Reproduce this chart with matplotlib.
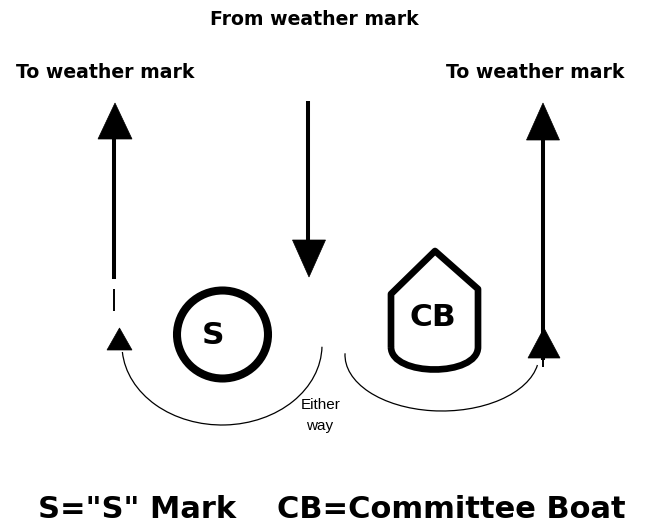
import matplotlib
matplotlib.use("Agg")
import matplotlib.pyplot as plt
from matplotlib.patches import Polygon, Ellipse, Arc, PathPatch
from matplotlib.path import Path

# ---- diagram content (pixel coordinates, y downward) ----
labels_top = ["From weather mark", "To weather mark", "To weather mark"]
labels_top_xy = [(314, 19.5), (105, 72.5), (535, 72.5)]

legend_texts = ['S="S" Mark', 'CB=Committee Boat']
legend_xy = [(137, 509), (451, 509)]

mark_labels = ["S", "CB"]
mark_label_xy = [(213, 336), (433, 318)]

either_texts = ["Either", "way"]
either_xy = [(321, 405), (320, 426)]

# straight course legs: (x, y_start, y_end)
thick_legs = [(114, 139, 279), (308, 101, 242), (543, 139, 360)]
thin_legs = [(114, 289, 311), (543, 358, 367)]

# arrowheads: (tip_x, tip_y, half_width, base_y)
heads = [(115, 103, 17, 139), (309, 277, 16.5, 240), (543, 103, 16.5, 140),
         (119.5, 328, 12.5, 350), (544, 328, 16, 358)]

# rounding arcs: (cx, cy, width, height, theta1, theta2)
arcs = [(222, 345, 200, 160, 1, 176), (442, 355, 194, 112, 6, 181)]

# "S" mark circle: (cx, cy, w, h)
s_mark = (222.5, 334.5, 91, 88)

# committee boat outline
cb_top = (435, 251)
cb_left = (391, 294, 347)
cb_right = (478, 289, 347)
cb_bottom_ctrl = 377

fig = plt.figure(figsize=(6.5, 5.31), dpi=100)
ax = fig.add_axes([0, 0, 1, 1])
ax.set_xlim(0, 650)
ax.set_ylim(531, 0)
ax.axis("off")

bold = dict(family="DejaVu Sans", weight="bold", color="black",
            ha="center", va="center")

for t, (x, y) in zip(labels_top, labels_top_xy):
    ax.text(x, y, t, fontsize=13.6, **bold)

for t, (x, y) in zip(legend_texts, legend_xy):
    ax.text(x, y, t, fontsize=22, **bold)

for t, (x, y) in zip(mark_labels, mark_label_xy):
    ax.text(x, y, t, fontsize=22.5, **bold)

for t, (x, y) in zip(either_texts, either_xy):
    ax.text(x, y, t, fontsize=11, family="Liberation Sans", color="black",
            ha="center", va="center")

for x, y0, y1 in thick_legs:
    ax.plot([x, x], [y0, y1], color="black", lw=2.9, solid_capstyle="butt")
for x, y0, y1 in thin_legs:
    ax.plot([x, x], [y0, y1], color="black", lw=1.4, solid_capstyle="butt")

for tx, ty, hw, by in heads:
    ax.add_patch(Polygon([(tx, ty), (tx - hw, by), (tx + hw, by)],
                         closed=True, facecolor="black", edgecolor="black",
                         lw=0.5))

for cx, cy, w, h, t1, t2 in arcs:
    ax.add_patch(Arc((cx, cy), w, h, theta1=t1, theta2=t2,
                     color="black", lw=0.9))

cx, cy, w, h = s_mark
ax.add_patch(Ellipse((cx, cy), w, h, fill=False, edgecolor="black", lw=5.8))

verts = [(cb_left[0], cb_left[2]), (cb_left[0], cb_left[1]), cb_top,
         (cb_right[0], cb_right[1]), (cb_right[0], cb_right[2]),
         (cb_right[0], cb_bottom_ctrl), (cb_left[0], cb_bottom_ctrl),
         (cb_left[0], cb_left[2])]
codes = [Path.MOVETO, Path.LINETO, Path.LINETO, Path.LINETO, Path.LINETO,
         Path.CURVE4, Path.CURVE4, Path.CURVE4]
ax.add_patch(PathPatch(Path(verts, codes), fill=False, edgecolor="black",
                       lw=4.8, joinstyle="round"))

fig.savefig("out.png", dpi=100, facecolor="white")
